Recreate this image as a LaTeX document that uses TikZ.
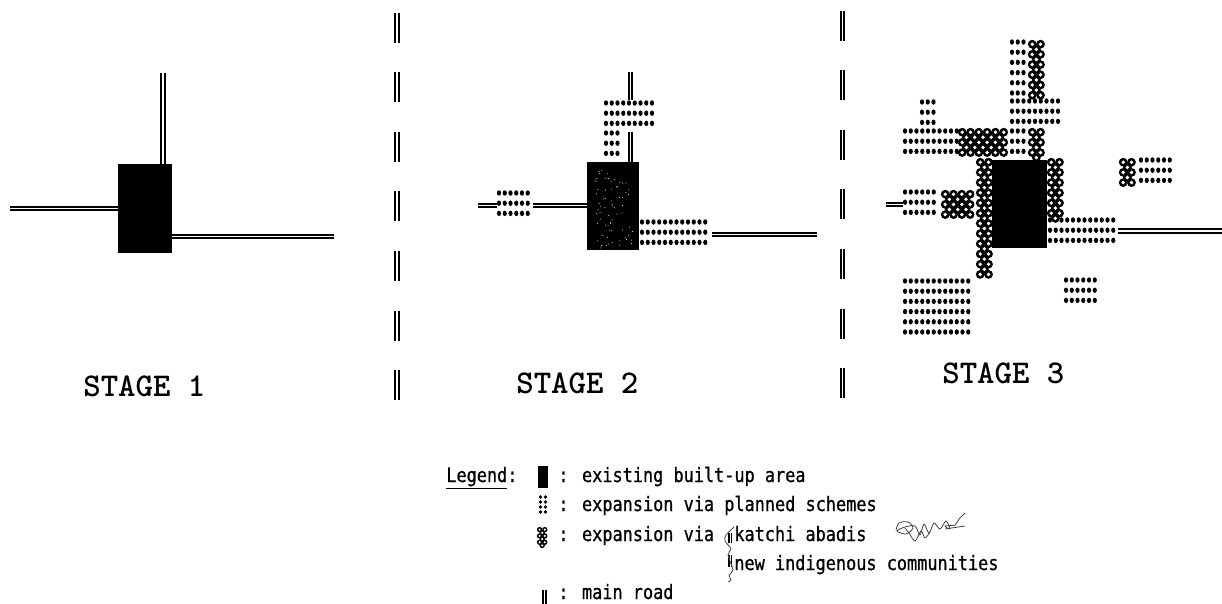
\documentclass[tikz,border=0pt]{standalone}
\usepackage{fontspec}
\newfontfamily\legendfont[FakeStretch=0.85,FakeBold=0.8]{DejaVu Sans Mono}

\tikzset{
    road/.style={line width=1.15pt, double=white, double distance=0.7pt},
    stagelabel/.style={font=\ttfamily\bfseries\fontsize{18.9}{20}\selectfont, anchor=base west, inner sep=0pt},
    legendtext/.style={font=\legendfont\fontsize{11.3}{13}\selectfont, anchor=base west, inner sep=0pt},
    scribble/.style={line width=0.45pt, black!75}
}

% planned scheme: left dot, top dot, columns, rows
\newcommand{\plannedbox}[4]{
    \foreach \row in {1,...,#4}
        \foreach \col in {1,...,#3}
            \fill ({#1+(\col-1)*5.75}, {#2+(\row-1)*10.2}) circle[x radius=2.1, y radius=2.7];
}
% katchi abadi: left edge, top edge, columns, rows
\newcommand{\katchibox}[4]{
    \foreach \ringr/\ringc in {4.4/black, 1.9/white}
        \foreach \row in {1,...,#4} {
            \pgfmathtruncatemacro{\ringn}{#3-1+mod(\row,2)}
            \pgfmathsetmacro{\ringoff}{(1-mod(\row,2))*4.15}
            \foreach \col in {1,...,\ringn}
                \fill[\ringc] ({#1+4.2+(\col-1)*8.3+\ringoff}, {#2+4.2+(\row-1)*5.1}) circle[radius=\ringr];
        }
}

\begin{document}
\begin{tikzpicture}[x=0.02cm, y=-0.02cm]
    \useasboundingbox (0, 0) rectangle (1222, 604);

    % Dividers
    \foreach \n in {0,...,6} {
        \draw[road] (397, {13+59.5*\n}) -- (397, {43+59.5*\n});
        \draw[road] (842.5, {11+59.5*\n}) -- (842.5, {41+59.5*\n});
    }

    % Stage 1
    \draw[road] (163, 73) -- (163, 164);
    \draw[road] (10, 208.5) -- (118, 208.5);
    \draw[road] (172, 236.5) -- (334, 236.5);
    \fill (118, 164) rectangle (172, 253);
    \node[stagelabel] (stageone) at (83, 396) {STAGE 1};

    % Stage 2
    \draw[road] (630.5, 72) -- (630.5, 100);
    \draw[road] (630.5, 132) -- (630.5, 162);
    \draw[road] (478, 205.5) -- (497, 205.5);
    \draw[road] (533, 205.5) -- (587, 205.5);
    \draw[road] (712, 234.5) -- (817, 234.5);
    \plannedbox{606}{103}{9}{3}
    \plannedbox{606}{133}{3}{3}
    \plannedbox{499}{193}{6}{3}
    \plannedbox{642}{222}{12}{3}
    \fill (587, 162) rectangle (639, 250);
    \pgfmathsetseed{7}
    \foreach \n in {1,...,70}
        \fill[white] ({595+rnd*38}, {170+rnd*78}) circle[radius=0.5];
    \node[stagelabel] (stagetwo) at (516, 393) {STAGE 2};

    % Stage 3
    \draw[road] (886, 204.5) -- (903, 204.5);
    \draw[road] (1118, 231) -- (1222, 231);
    \plannedbox{1012}{42}{3}{6}
    \plannedbox{1012}{101}{9}{3}
    \plannedbox{922}{102}{3}{3}
    \plannedbox{905}{131}{10}{3}
    \plannedbox{1012}{131}{3}{3}
    \plannedbox{905}{192}{6}{3}
    \plannedbox{1050}{220}{12}{3}
    \plannedbox{1141}{160}{6}{3}
    \plannedbox{1066}{280}{6}{3}
    \plannedbox{905}{281}{12}{6}
    \katchibox{1028}{40}{2}{11}
    \katchibox{958}{128}{6}{5}
    \katchibox{1028}{128}{2}{6}
    \katchibox{976}{158}{2}{23}
    \katchibox{1047}{158}{2}{12}
    \katchibox{941}{190}{4}{5}
    \katchibox{1119}{158}{2}{5}
    \fill (992, 160) rectangle (1047, 248);
    \node[stagelabel] (stagethree) at (942, 383) {STAGE 3};

    % Legend
    \node[legendtext] (legendword) at (446, 482) {\underline{Legend}:};
    \fill (538, 466) rectangle (548, 488);
    \node[legendtext] (legendbuilt) at (558, 482) {: existing built-up area};
    \foreach \col in {540.5, 545.5}
        \foreach \row in {497, 502, 507, 512}
            \fill (\col, \row) circle[radius=1.9];
    \node[legendtext] (legendplanned) at (558, 511) {: expansion via planned schemes};
    \begin{scope}[shift={(537, 527)}, scale=0.62]
        \katchibox{0}{0}{2}{6}
    \end{scope}
    \node[legendtext] (legendkatchi) at (558, 541) {: expansion via};
    \node[legendtext] (legendabadis) at (734, 541) {katchi abadis};
    \node[legendtext] (legendnew) at (734, 570) {new indigenous communities};
    \draw[road, line width=0.9pt, double distance=0.5pt] (544.5, 590) -- (544.5, 604);
    \node[legendtext] (legendroad) at (558, 599) {: main road};

    % Pen marks
    \draw[road, line width=0.9pt, double distance=0.5pt] (730, 533) -- (730, 543);
    \draw[road, line width=0.9pt, double distance=0.5pt] (730, 555) -- (730, 567);
    \draw[scribble] plot[smooth] coordinates {(734,527) (726,535) (725,541) (731,549) (728,555) (733,570) (729,575) (731,580) (728,582)};
    \draw[scribble] plot[smooth] coordinates {(896,530) (899,523) (908,522) (913,528) (906,534) (897,531) (905,527) (915,526) (920,535) (924,524) (929,533) (934,523) (940,529) (946,521) (950,529) (945,526) (955,525) (959,519) (965,513)};
    \draw[scribble] plot[smooth] coordinates {(905,528) (909,533) (915,541) (921,531) (925,538) (930,532)};
    \draw[scribble] (945,529) -- (965,526);
\end{tikzpicture}
\end{document}
